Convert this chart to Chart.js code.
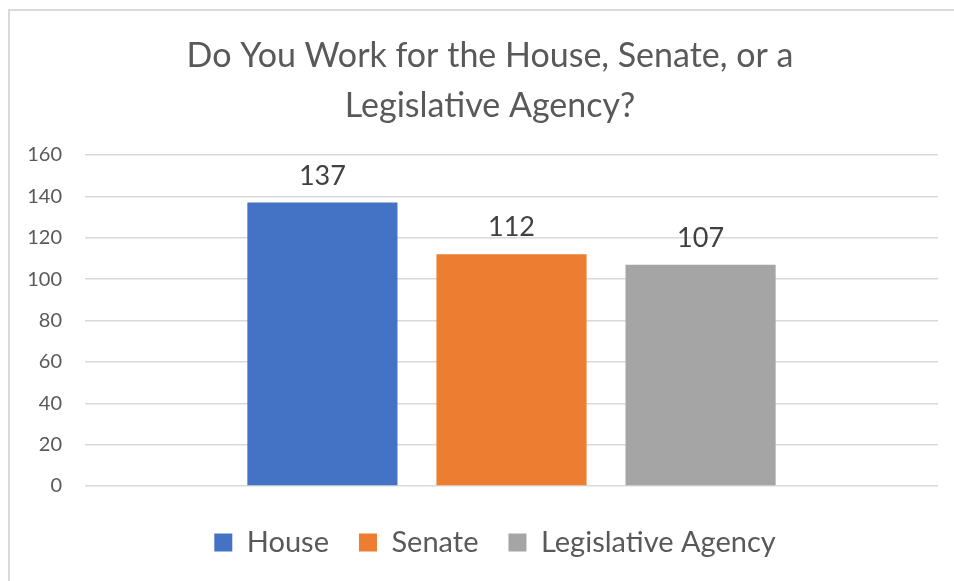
<!DOCTYPE html>
<html>
<head>
<meta charset="utf-8">
<title>Do You Work for the House, Senate, or a Legislative Agency?</title>
<script src="https://cdn.jsdelivr.net/npm/chart.js@4.4.1/dist/chart.umd.min.js"></script>
<style>
  html, body { margin: 0; padding: 0; background: #fff; }
  #wrap { position: relative; width: 954px; height: 581px; }
</style>
</head>
<body>
<div id="wrap"><canvas id="workplace"></canvas></div>
<script>
const titleLines = ['Do You Work for the House, Senate, or a', 'Legislative Agency?'];
const seriesNames = ['House', 'Senate', 'Legislative Agency'];
const seriesValues = [137, 112, 107];
const seriesColors = ['#4472C4', '#ED7D31', '#A5A5A5'];
const yTicks = [0, 20, 40, 60, 80, 100, 120, 140, 160];

const FONT = 'Lato, "Open Sans", sans-serif';

// light frame along the top and left edge
const frame = {
    id: 'frame',
    beforeDraw(chart) {
        const ctx = chart.ctx;
        ctx.save();
        ctx.fillStyle = '#fff';
        ctx.fillRect(0, 0, chart.width, chart.height);
        ctx.strokeStyle = '#d9d9d9';
        ctx.lineWidth = 2;
        ctx.beginPath();
        ctx.moveTo(9, chart.height);
        ctx.lineTo(9, 10);
        ctx.lineTo(chart.width, 10);
        ctx.stroke();
        ctx.restore();
    }
};

// title and legend are centred on the framed box, not on the full canvas
const centreOnFrame = {
    id: 'centreOnFrame',
    afterLayout(chart) {
        chart.titleBlock.left += 42;
        chart.legend.left += 52;
    }
};

// value printed above each bar
const barValues = {
    id: 'barValues',
    afterDatasetsDraw(chart) {
        const ctx = chart.ctx;
        ctx.save();
        ctx.font = '27px ' + FONT;
        ctx.fillStyle = '#404040';
        ctx.textAlign = 'center';
        ctx.textBaseline = 'alphabetic';
        chart.data.datasets.forEach((ds, i) => {
            chart.getDatasetMeta(i).data.forEach((bar, j) => {
                ctx.fillText(String(ds.data[j]), bar.x, bar.y - 18);
            });
        });
        ctx.restore();
    }
};

new Chart(document.getElementById('workplace'), {
    type: 'bar',
    data: {
        labels: [''],
        datasets: seriesNames.map((name, i) => ({
            label: name,
            data: [seriesValues[i]],
            backgroundColor: seriesColors[i],
            borderWidth: 0
        }))
    },
    options: {
        responsive: true,
        maintainAspectRatio: false,
        animation: false,
        datasets: { bar: { categoryPercentage: 0.665, barPercentage: 0.794 } },
        layout: { padding: { left: 0, right: 16, top: 0, bottom: 14 } },
        plugins: {
            title: {
                display: true,
                text: titleLines,
                color: '#595959',
                font: { family: FONT, size: 34, weight: 'normal', lineHeight: 50 / 34 },
                padding: { top: 31, bottom: 24 }
            },
            legend: {
                position: 'bottom',
                labels: {
                    color: '#595959',
                    font: { family: FONT, size: 29 },
                    boxWidth: 18,
                    boxHeight: 18,
                    padding: 30
                }
            },
            tooltip: { enabled: false }
        },
        scales: {
            // hidden category axis, kept only for the gap above the legend
            x: {
                grid: { display: false },
                border: { display: false },
                ticks: { display: false },
                afterFit(scale) { scale.height = 12; }
            },
            y: {
                min: yTicks[0],
                max: yTicks[yTicks.length - 1],
                afterBuildTicks(scale) {
                    scale.ticks = yTicks.map(v => ({ value: v }));
                },
                afterFit(scale) { scale.width = 85; },
                border: { display: false },
                grid: { color: '#d9d9d9', lineWidth: 1.5, drawTicks: false },
                ticks: { color: '#595959', font: { family: FONT, size: 20 }, padding: 23 }
            }
        }
    },
    plugins: [frame, centreOnFrame, barValues]
});
</script>
</body>
</html>
